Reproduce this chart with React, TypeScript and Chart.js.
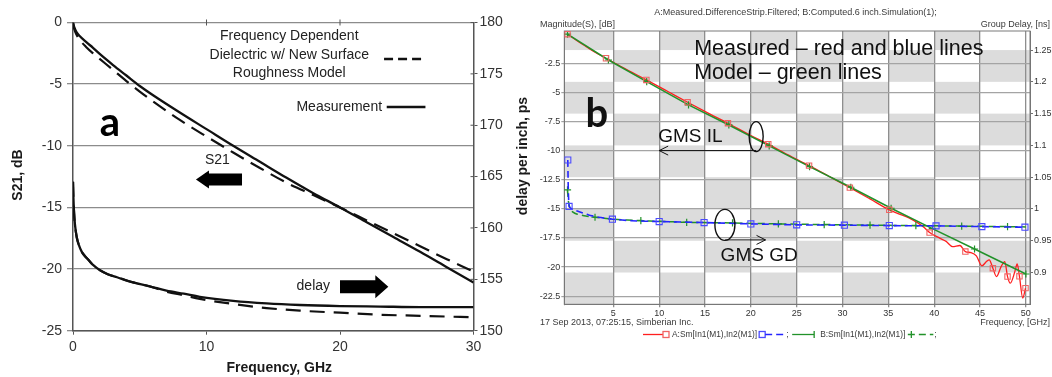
import React, { useEffect, useRef } from "react";
import { Chart, registerables } from "chart.js";

Chart.register(...registerables);

const SANS = '"Liberation Sans", Arial, Helvetica, sans-serif';
const BIG = 'Lato, "Open Sans", sans-serif';

/* ---------------- panel a ---------------- */
const aS21Freq = [0, 0.1, 0.25, 0.5, 1, 1.5, 2, 3, 4, 5, 6, 8, 10, 12, 14, 16, 18, 20, 22, 24, 26, 28, 30];
const aS21Measured = [0, -0.4, -0.75, -1.1, -1.6, -2.05, -2.55, -3.45, -4.3, -5.15, -5.9, -7.3, -8.65, -10.0, -11.3, -12.6, -13.85, -15.0, -16.2, -17.4, -18.6, -19.85, -21.1];
const aS21Model = [0, -0.55, -0.95, -1.4, -2.0, -2.5, -2.95, -3.85, -4.75, -5.6, -6.4, -7.9, -9.25, -10.55, -11.8, -13.0, -14.0, -15.0, -16.05, -17.1, -18.15, -19.2, -20.2];

const aDelayFreq = [0, 0.03, 0.08, 0.15, 0.28, 0.45, 0.65, 0.9, 1.15, 1.5, 2, 2.6, 3.3, 4.5, 5.8, 7, 8.3, 9.5, 12, 14.5, 17, 20, 23, 26, 30];
const aDelayMeasured = [164.5, 163.0, 161.5, 160.3, 159.1, 158.3, 157.7, 157.25, 156.9, 156.4, 155.9, 155.5, 155.2, 154.7, 154.3, 153.9, 153.6, 153.3, 152.9, 152.65, 152.5, 152.4, 152.35, 152.3, 152.3];
const aDelayModel = [164.5, 163.0, 161.5, 160.3, 159.1, 158.3, 157.7, 157.25, 156.9, 156.4, 155.9, 155.5, 155.2, 154.7, 154.3, 153.8, 153.45, 153.1, 152.6, 152.2, 151.95, 151.75, 151.55, 151.45, 151.3];

const aXTicks = [0, 10, 20, 30];
const aYTicks = [-25, -20, -15, -10, -5, 0];
const aY2Ticks = [150, 155, 160, 165, 170, 175, 180];
const aLegendModel = ["Frequency Dependent", "Dielectric w/ New Surface", "Roughness Model"];
const aLegendMeasured = "Measurement";

/* ---------------- panel b ---------------- */
const bRedFreq = [0, 1, 2, 3, 4.2, 6, 8.6, 11, 13.1, 15.5, 17.5, 20, 21.9, 24, 26.35, 28.5, 30.8, 33, 35.1, 36.2, 37.3, 38.8, 39.5, 40.6, 41.3, 42.0, 42.8, 43.4, 44.0, 44.6, 45.2, 45.7, 46.0, 46.4, 46.8, 47.3, 47.7, 48.0, 48.3, 48.8, 49.05, 49.3, 49.66, 49.96];
const bRedDb = [0, -0.55, -1.05, -1.55, -2.07, -2.85, -3.93, -4.95, -5.85, -6.85, -7.65, -8.7, -9.45, -10.35, -11.29, -12.2, -13.18, -14.15, -15.09, -15.45, -15.8, -16.53, -17.04, -17.52, -17.8, -18.24, -18.15, -18.67, -18.76, -19.04, -19.9, -19.53, -19.38, -20.1, -20.82, -19.96, -19.53, -20.82, -21.39, -20.39, -19.73, -20.8, -22.67, -21.81];
const bRedMarkFreq = [0, 4.2, 8.6, 13.1, 17.5, 21.9, 26.35, 30.8, 35.1, 39.5, 43.4, 46.4, 48.0, 49.3, 49.96];
const bRedMarkDb = [0, -2.07, -3.93, -5.85, -7.65, -9.45, -11.29, -13.18, -15.09, -17.04, -18.67, -20.1, -20.82, -20.8, -21.81];

const bGreenFreq = [0, 4.46, 8.64, 13.2, 17.6, 22.0, 26.4, 30.9, 35.3, 39.8, 44.4, 50];
const bGreenDb = [0, -2.22, -4.08, -6.08, -7.8, -9.6, -11.37, -13.15, -14.95, -16.7, -18.45, -20.6];

const bBlueFreq = [0.03, 0.17, 0.6, 1.2, 2.3, 3.4, 4.9, 7, 10, 14.9, 20, 25, 30.2, 35.1, 40.2, 45.2, 49.9];
const bBlueGd = [1.077, 1.004, 0.999, 0.996, 0.9906, 0.987, 0.9839, 0.9815, 0.9802, 0.9786, 0.9765, 0.975, 0.9745, 0.9738, 0.9734, 0.9722, 0.9713];
const bBlueMarkFreq = [0.03, 0.17, 4.9, 10, 14.9, 20, 25, 30.2, 35.1, 40.2, 45.2, 49.9];
const bBlueMarkGd = [1.077, 1.004, 0.9839, 0.9802, 0.9786, 0.9765, 0.975, 0.9745, 0.9738, 0.9734, 0.9722, 0.9713];

const bGreenGdFreq = [0, 0.1, 0.3, 0.6, 1, 2, 3, 5, 8, 10, 13, 18, 23, 28, 33, 38, 43, 48, 50];
const bGreenGd = [1.03, 1.012, 1.0, 0.995, 0.992, 0.989, 0.987, 0.9838, 0.9817, 0.9805, 0.979, 0.978, 0.9765, 0.9755, 0.9745, 0.9738, 0.973, 0.9722, 0.9718];
const bGreenGdMarkFreq = [0, 3, 8, 13, 18, 23, 28, 33, 38, 43, 48];
const bGreenGdMark = [1.03, 0.987, 0.9817, 0.979, 0.978, 0.9765, 0.9755, 0.9745, 0.9738, 0.973, 0.9722];

const bXTicks = [5, 10, 15, 20, 25, 30, 35, 40, 45, 50];
const bYTicks = [-22.5, -20, -17.5, -15, -12.5, -10, -7.5, -5, -2.5];
const bY2Ticks = [0.9, 0.95, 1, 1.05, 1.1, 1.15, 1.2, 1.25];
const bTitle = "A:Measured.DifferenceStrip.Filtered; B:Computed.6 inch.Simulation(1);";
const bLegendA = "A:Sm[In1(M1),In2(M1)]";
const bLegendB = "B:Sm[In1(M1),In2(M1)]";

const RED = "#ff1f1f";
const RED_MARK = "#f06464";
const GREEN = "#22922a";
const BLUE = "#2424ff";
const BLUE_MARK = "#4a4aff";

const pts = (xs: number[], ys: number[]) => xs.map((x, i) => ({ x, y: ys[i] }));
const setTicks = (vals: number[]) => (s: any) => {
  s.ticks = vals.map((v) => ({ value: v }));
};

function seg(ctx: CanvasRenderingContext2D, x1: number, y1: number, x2: number, y2: number) {
  ctx.beginPath();
  ctx.moveTo(x1, y1);
  ctx.lineTo(x2, y2);
  ctx.stroke();
}

function blockArrow(ctx: CanvasRenderingContext2D, tailX: number, tipX: number, y: number, headLen: number, headHalf: number, bodyHalf: number) {
  const dir = Math.sign(tipX - tailX);
  const baseX = tipX - dir * headLen;
  ctx.beginPath();
  ctx.moveTo(tailX, y - bodyHalf);
  ctx.lineTo(baseX, y - bodyHalf);
  ctx.lineTo(baseX, y - headHalf);
  ctx.lineTo(tipX, y);
  ctx.lineTo(baseX, y + headHalf);
  ctx.lineTo(baseX, y + bodyHalf);
  ctx.lineTo(tailX, y + bodyHalf);
  ctx.closePath();
  ctx.fill();
}

function openArrow(ctx: CanvasRenderingContext2D, x1: number, x2: number, y: number) {
  const dir = Math.sign(x2 - x1);
  seg(ctx, x1, y, x2, y);
  seg(ctx, x2, y, x2 - dir * 9, y - 4.5);
  seg(ctx, x2, y, x2 - dir * 9, y + 4.5);
}

const annotA = {
  id: "annotA",
  afterDraw(chart: any) {
    const { ctx, chartArea: ca, scales } = chart;
    const X = (v: number) => scales.x.getPixelForValue(v);
    const Y = (v: number) => scales.y.getPixelForValue(v);
    ctx.save();
    ctx.strokeStyle = "#555";
    ctx.lineWidth = 1;
    [10, 20].forEach((v) => seg(ctx, X(v), ca.top - 3, X(v), ca.top + 3));
    aY2Ticks.forEach((v) => {
      const py = scales.y2.getPixelForValue(v);
      seg(ctx, ca.right - 3, py, ca.right, py);
    });

    ctx.fillStyle = "#1a1a1a";
    ctx.textBaseline = "middle";
    ctx.textAlign = "center";
    ctx.font = `bold 14px ${SANS}`;
    ctx.fillText("Frequency, GHz", X(15.45), 368);
    ctx.save();
    ctx.translate(18, 175);
    ctx.rotate(-Math.PI / 2);
    ctx.fillText("S21, dB", 0, 0);
    ctx.restore();
    ctx.save();
    ctx.translate(523, 156);
    ctx.rotate(-Math.PI / 2);
    ctx.fillText("delay per inch, ps", 0, 0);
    ctx.restore();

    // legend
    ctx.font = `14px ${SANS}`;
    ctx.fillStyle = "#222";
    ctx.fillText(aLegendModel[0], X(16.2), Y(-1.09));
    ctx.fillText(aLegendModel[1], X(16.2), Y(-2.64));
    ctx.fillText(aLegendModel[2], X(16.2), Y(-4.1));
    ctx.textAlign = "right";
    ctx.fillText(aLegendMeasured, X(23.15), Y(-6.85));
    ctx.strokeStyle = "#111";
    ctx.lineWidth = 2.4;
    ctx.setLineDash([9, 5]);
    seg(ctx, X(23.3), Y(-2.96), X(26.2), Y(-2.96));
    ctx.setLineDash([]);
    seg(ctx, X(23.5), Y(-6.85), X(26.4), Y(-6.85));

    // labels and arrows
    ctx.textAlign = "center";
    ctx.fillText("S21", X(10.82), Y(-11.18));
    ctx.fillText("delay", X(18.0), Y(-21.37));
    ctx.fillStyle = "#000";
    blockArrow(ctx, X(12.66), X(9.21), Y(-12.73), 13, 9, 6);
    blockArrow(ctx, X(20.0), X(23.62), Y(-21.43), 13, 11.5, 6.5);

    ctx.font = `bold 40px ${BIG}`;
    ctx.textBaseline = "alphabetic";
    ctx.fillText("a", X(2.77), Y(-9.2));
    ctx.restore();
  },
};

const checkerB = {
  id: "checkerB",
  beforeDraw(chart: any) {
    const { ctx, chartArea: ca, scales } = chart;
    const xs = [ca.left, ...bXTicks.slice(0, -1).map((v) => scales.x.getPixelForValue(v)), ca.right];
    const ys = [ca.top, ...bY2Ticks.slice().reverse().map((v) => scales.y2.getPixelForValue(v)), ca.bottom];
    ctx.save();
    ctx.fillStyle = "#dcdcdc";
    for (let c = 0; c < xs.length - 1; c++) {
      for (let r = 0; r < ys.length - 1; r++) {
        if ((c + r) % 2 === 0) ctx.fillRect(xs[c], ys[r], xs[c + 1] - xs[c], ys[r + 1] - ys[r]);
      }
    }
    ctx.restore();
  },
  beforeDatasetsDraw(chart: any) {
    const { ctx, chartArea: ca } = chart;
    ctx.save();
    ctx.strokeStyle = "#7a7a7a";
    ctx.lineWidth = 1;
    ctx.strokeRect(ca.left, ca.top, ca.right - ca.left, ca.bottom - ca.top);
    ctx.restore();
  },
  afterDraw(chart: any) {
    const { ctx, chartArea: ca, scales } = chart;
    const X = (v: number) => scales.x.getPixelForValue(v);
    const Y = (v: number) => scales.y.getPixelForValue(v);
    ctx.save();
    ctx.fillStyle = "#3a3a3a";
    ctx.textBaseline = "middle";
    ctx.font = `9px ${SANS}`;
    ctx.textAlign = "center";
    ctx.fillText(bTitle, 258.5, 13);
    ctx.textAlign = "left";
    ctx.fillText("Magnitude(S), [dB]", 3, 25);
    ctx.fillText("17 Sep 2013, 07:25:15, Simberian Inc.", 3, 323);
    ctx.textAlign = "right";
    ctx.fillText("Group Delay, [ns]", 513, 25);
    ctx.fillText("Frequency, [GHz]", 513, 322.5);

    // legend
    const ly = 334.5;
    ctx.font = `8.4px ${SANS}`;
    ctx.textAlign = "left";
    let lx = 106;
    ctx.lineWidth = 1.3;
    ctx.strokeStyle = RED;
    seg(ctx, lx, ly, lx + 20, ly);
    ctx.strokeStyle = RED_MARK;
    ctx.strokeRect(lx + 20, ly - 3, 6, 6);
    lx += 29;
    ctx.fillText(bLegendA, lx, ly);
    lx += ctx.measureText(bLegendA).width + 2;
    ctx.strokeStyle = BLUE_MARK;
    ctx.strokeRect(lx, ly - 3, 6, 6);
    ctx.strokeStyle = BLUE;
    ctx.setLineDash([7, 4]);
    seg(ctx, lx + 6, ly, lx + 26, ly);
    ctx.setLineDash([]);
    ctx.fillText(";", lx + 27, ly);
    lx += 33;
    ctx.strokeStyle = GREEN;
    seg(ctx, lx, ly, lx + 22, ly);
    seg(ctx, lx + 22, ly - 3.5, lx + 22, ly + 3.5);
    lx += 28;
    ctx.fillText(bLegendB, lx, ly);
    lx += ctx.measureText(bLegendB).width + 6;
    seg(ctx, lx, ly - 3.5, lx, ly + 3.5);
    ctx.setLineDash([7, 4]);
    seg(ctx, lx - 3.5, ly, lx + 22, ly);
    ctx.setLineDash([]);
    ctx.fillText(";", lx + 23, ly);

    // annotations
    ctx.fillStyle = "#111";
    ctx.textAlign = "left";
    ctx.font = `21.5px ${SANS}`;
    ctx.fillText("Measured \u2013 red and blue lines", X(13.82), Y(-1.3));
    ctx.fillText("Model \u2013 green lines", X(13.82), Y(-3.36));
    ctx.font = `19px ${SANS}`;
    ctx.fillText("GMS IL", X(9.9), Y(-8.77));
    ctx.fillText("GMS GD", X(16.7), Y(-19.04));

    ctx.strokeStyle = "#111";
    ctx.lineWidth = 1.4;
    ctx.beginPath();
    ctx.ellipse(X(20.58), Y(-8.8), 7, 15, 0, 0, Math.PI * 2);
    ctx.stroke();
    ctx.beginPath();
    ctx.ellipse(X(17.17), Y(-16.38), 10, 15.5, 0, 0, Math.PI * 2);
    ctx.stroke();
    ctx.lineWidth = 1;
    openArrow(ctx, X(20.58), X(10.0), Y(-10.0));
    openArrow(ctx, X(17.2), X(21.6), Y(-17.67));

    ctx.font = `bold 40px ${BIG}`;
    ctx.textAlign = "center";
    ctx.textBaseline = "alphabetic";
    ctx.fillText("b", X(3.19), Y(-7.94));
    ctx.restore();
  },
};

export default function App() {
  const refA = useRef<HTMLCanvasElement | null>(null);
  const refB = useRef<HTMLCanvasElement | null>(null);

  useEffect(() => {
    const tickFont = { family: SANS, size: 14 };
    const chartA = new Chart(refA.current as HTMLCanvasElement, {
      type: "line",
      data: {
        datasets: [
          { label: "S21 measurement", data: pts(aS21Freq, aS21Measured), yAxisID: "y", borderColor: "#111", borderWidth: 2.3, pointRadius: 0, cubicInterpolationMode: "monotone", fill: false },
          { label: "S21 model", data: pts(aS21Freq, aS21Model), yAxisID: "y", borderColor: "#111", borderWidth: 2.2, borderDash: [15, 8], pointRadius: 0, cubicInterpolationMode: "monotone", fill: false },
          { label: "delay measurement", data: pts(aDelayFreq, aDelayMeasured), yAxisID: "y2", borderColor: "#111", borderWidth: 2.3, pointRadius: 0, cubicInterpolationMode: "monotone", fill: false },
          { label: "delay model", data: pts(aDelayFreq, aDelayModel), yAxisID: "y2", borderColor: "#111", borderWidth: 2.2, borderDash: [15, 9], pointRadius: 0, cubicInterpolationMode: "monotone", fill: false },
        ],
      } as any,
      options: {
        responsive: false,
        animation: false,
        devicePixelRatio: 1,
        layout: { padding: { top: 22.5, left: 0, right: 0, bottom: 0 } },
        plugins: { legend: { display: false }, tooltip: { enabled: false }, title: { display: false } },
        scales: {
          x: {
            type: "linear", min: 0, max: 30,
            afterBuildTicks: setTicks(aXTicks),
            afterFit: (s: any) => { s.height = 46.3; },
            grid: { drawOnChartArea: false, tickLength: 4, color: "#555" },
            border: { color: "#555", width: 1.5 },
            ticks: { font: tickFont, color: "#333", padding: 4, maxRotation: 0, minRotation: 0, autoSkip: false, callback: (v: any) => String(v) },
          },
          y: {
            type: "linear", position: "left", min: -25, max: 0,
            afterBuildTicks: setTicks(aYTicks),
            afterFit: (s: any) => { s.width = 73; },
            grid: { color: "#8c8c8c", lineWidth: 1.3, tickLength: 6 },
            border: { color: "#555", width: 1.5 },
            ticks: { font: tickFont, color: "#333", padding: 5, autoSkip: false, callback: (v: any) => String(v) },
          },
          y2: {
            type: "linear", position: "right", min: 150, max: 180,
            afterBuildTicks: setTicks(aY2Ticks),
            afterFit: (s: any) => { s.width = 63.5; },
            grid: { drawOnChartArea: false, tickLength: 4, color: "#555" },
            border: { color: "#555", width: 1.5 },
            ticks: { font: tickFont, color: "#333", padding: 2, autoSkip: false, callback: (v: any) => String(v) },
          },
        },
      } as any,
      plugins: [annotA],
    });

    const smallFont = { family: SANS, size: 9 };
    const chartB = new Chart(refB.current as HTMLCanvasElement, {
      type: "line",
      data: {
        datasets: [
          { label: "A GD markers", data: pts(bBlueMarkFreq, bBlueMarkGd), yAxisID: "y2", showLine: false, pointStyle: "rect", pointRadius: 4.3, pointBorderColor: BLUE_MARK, pointBackgroundColor: "rgba(0,0,0,0)", pointBorderWidth: 1.1 },
          { label: "A GD", data: pts(bBlueFreq, bBlueGd), yAxisID: "y2", borderColor: BLUE, borderWidth: 1.6, borderDash: [7, 4], pointRadius: 0, tension: 0.2, fill: false },
          { label: "B GD markers", data: pts(bGreenGdMarkFreq, bGreenGdMark), yAxisID: "y2", showLine: false, pointStyle: "cross", pointRadius: 3.6, pointBorderColor: GREEN, pointBorderWidth: 1.2 },
          { label: "B GD", data: pts(bGreenGdFreq, bGreenGd), yAxisID: "y2", borderColor: GREEN, borderWidth: 1.5, borderDash: [7, 4], pointRadius: 0, tension: 0.2, fill: false },
          { label: "A IL markers", data: pts(bRedMarkFreq, bRedMarkDb), yAxisID: "y", showLine: false, pointStyle: "rect", pointRadius: 3.8, pointBorderColor: RED_MARK, pointBackgroundColor: "rgba(0,0,0,0)", pointBorderWidth: 1.1 },
          { label: "B IL", data: pts(bGreenFreq, bGreenDb), yAxisID: "y", borderColor: GREEN, borderWidth: 1.5, pointStyle: "cross", pointRadius: 3.6, pointBorderColor: GREEN, pointBorderWidth: 1.2, tension: 0, fill: false },
          { label: "A IL", data: pts(bRedFreq, bRedDb), yAxisID: "y", borderColor: RED, borderWidth: 1.3, pointRadius: 0, cubicInterpolationMode: "monotone", fill: false },
        ],
      } as any,
      options: {
        responsive: false,
        animation: false,
        devicePixelRatio: 1,
        layout: { padding: { top: 31, left: 0, right: 0, bottom: 0 } },
        plugins: { legend: { display: false }, tooltip: { enabled: false }, title: { display: false } },
        scales: {
          x: {
            type: "linear", min: -0.35, max: 50.45,
            afterBuildTicks: setTicks(bXTicks),
            afterFit: (s: any) => { s.height = 72.7; },
            grid: { color: "#8e8e8e", lineWidth: 1.3, tickLength: 3 },
            border: { color: "#707070", width: 1 },
            ticks: { font: smallFont, color: "#333", padding: 1, maxRotation: 0, minRotation: 0, autoSkip: false, callback: (v: any) => String(v) },
          },
          y: {
            type: "linear", position: "left", min: -23.2, max: 0.27,
            afterBuildTicks: setTicks(bYTicks),
            afterFit: (s: any) => { s.width = 27.3; },
            grid: { color: "#a4a4a4", lineWidth: 1.2, tickLength: 3 },
            border: { color: "#707070", width: 1 },
            ticks: { font: smallFont, color: "#333", padding: 1, autoSkip: false, callback: (v: any) => String(v) },
          },
          y2: {
            type: "linear", position: "right", min: 0.85, max: 1.28,
            afterBuildTicks: setTicks(bY2Ticks),
            afterFit: (s: any) => { s.width = 22; },
            grid: { drawOnChartArea: false, tickLength: 3, color: "#707070" },
            border: { color: "#707070", width: 1 },
            ticks: { font: smallFont, color: "#333", padding: 1, autoSkip: false, callback: (v: any) => String(v) },
          },
        },
      } as any,
      plugins: [checkerB],
    });

    return () => {
      chartA.destroy();
      chartB.destroy();
    };
  }, []);

  return (
    <div style={{ position: "absolute", left: 0, top: 0, width: 1052, height: 377, background: "#fff", overflow: "hidden" }}>
      <canvas ref={refA} width={537} height={377} style={{ position: "absolute", left: 0, top: 0, width: 537, height: 377 }} />
      <canvas ref={refB} width={515} height={377} style={{ position: "absolute", left: 537, top: 0, width: 515, height: 377 }} />
    </div>
  );
}
